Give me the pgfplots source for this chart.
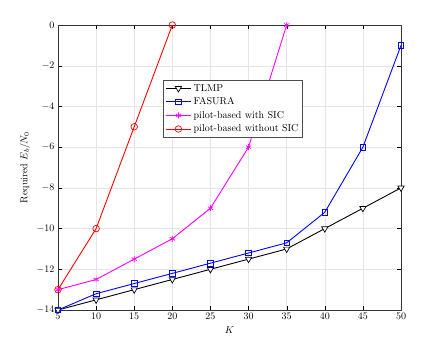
\documentclass[border=0pt]{standalone}
\usepackage{pgfplots}
\pgfplotsset{compat=1.18}
\definecolor{mtlmagenta}{rgb}{1,0,1}
\begin{document}
\begin{tikzpicture}
\begin{axis}[
    scale only axis,
    width=343pt,
    height=285pt,
    xmin=5, xmax=50,
    ymin=-14, ymax=0,
    xtick={5,10,...,50},
    ytick={-14,-12,...,0},
    xlabel={$K$},
    ylabel={Required $E_b/N_0$},
    grid=major,
    grid style={gray!20},
    tick align=inside,
    tick style={black},
    axis line style={black!80},
    legend style={at={(0.306,0.807)}, anchor=north west, draw=black!70, font=\normalsize, inner sep=2pt, row sep=1pt},
    legend cell align={left},
    legend image code/.code={\draw[mark repeat=2, mark phase=2] plot coordinates {(0cm,0cm) (0.45cm,0cm) (0.9cm,0cm)};},
    every axis plot/.append style={line width=0.9pt, mark size=3pt},
    clip=false,
]
\addplot[black, mark=triangle*, mark size=3.6pt, mark options={rotate=180, fill=white, line width=0.7pt}] coordinates {
    (5,-14) (10,-13.5) (15,-13) (20,-12.5) (25,-12)
    (30,-11.5) (35,-11) (40,-10) (45,-9) (50,-8)
};
\addplot[blue, mark=square, mark size=2.8pt, mark options={line width=0.7pt}] coordinates {
    (5,-14) (10,-13.2) (15,-12.7) (20,-12.2) (25,-11.7)
    (30,-11.2) (35,-10.7) (40,-9.2) (45,-6) (50,-1)
};
\addplot[mtlmagenta, mark=asterisk, mark options={line width=0.7pt}] coordinates {
    (5,-13) (10,-12.5) (15,-11.5) (20,-10.5) (25,-9) (30,-6) (35,0)
};
\addplot[red, mark=o, mark size=3.3pt, mark options={line width=0.7pt}] coordinates {
    (5,-13) (10,-10) (15,-5) (20,0)
};
\legend{TLMP, FASURA, pilot-based with SIC, pilot-based without SIC}
\end{axis}
\path (current axis.south west) ++(-58pt,-39pt) rectangle ++(443pt,349pt);
\end{tikzpicture}
\end{document}
